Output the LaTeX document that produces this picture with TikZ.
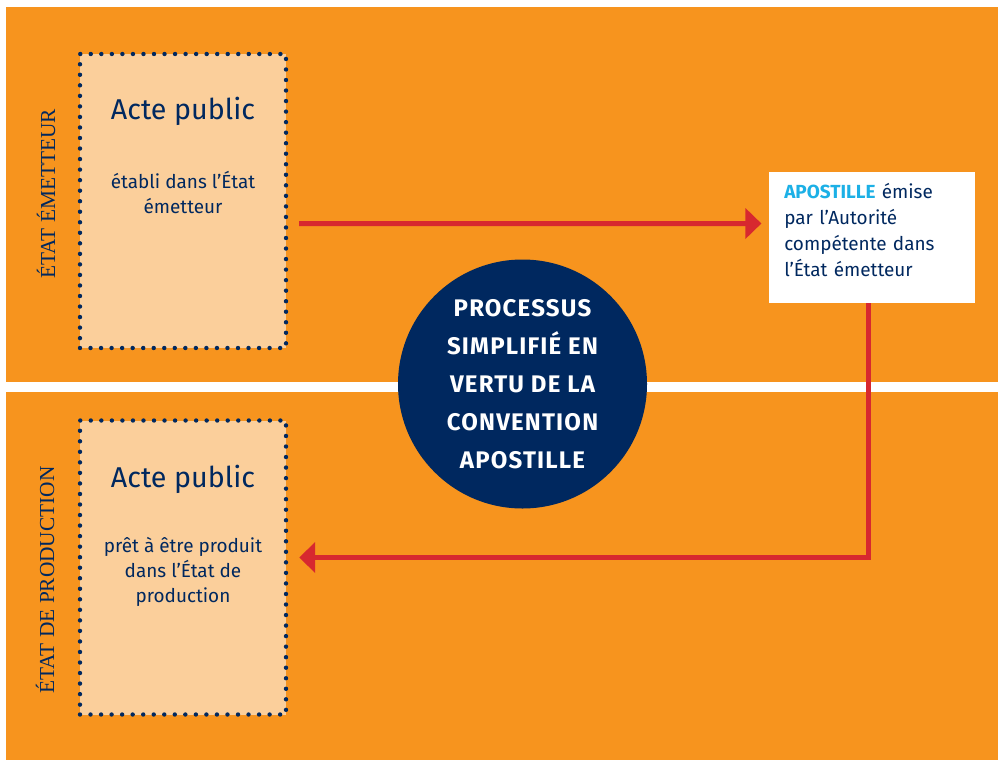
\documentclass[tikz,border=0pt]{standalone}
\usepackage{fontspec}
\setmainfont{Fira Sans}
\newfontfamily\statefont{Liberation Serif}
\usetikzlibrary{arrows.meta}
\definecolor{bandorange}{HTML}{F7941E}
\definecolor{actepeach}{HTML}{FBCF9B}
\definecolor{navy}{HTML}{00285F}
\definecolor{flowred}{HTML}{D7282F}
\definecolor{apocyan}{HTML}{1CB0E6}
\tikzstyle{band} = [fill=bandorange]
\tikzstyle{acte} = [fill=actepeach, draw=navy, line width=3.3pt, line cap=round, dash pattern=on 0pt off 7.9pt, minimum width=154.5pt, minimum height=220.5pt]
\tikzstyle{actetitle} = [text=navy, font=\fontsize{21.5}{25}\selectfont]
\tikzstyle{actetext} = [text=navy, align=center, font=\fontsize{14.2}{18.75}\selectfont]
\tikzstyle{apobox} = [fill=white, minimum width=154.5pt, minimum height=98.25pt]
\tikzstyle{apotext} = [text=navy, align=left, text width=140pt, inner sep=0pt, font=\fontsize{14.2}{19.5}\selectfont]
\tikzstyle{hub} = [circle, fill=navy, minimum size=186.75pt, inner sep=0pt, text=white, align=center, font=\bfseries\fontsize{18}{28.5}\selectfont\addfontfeature{LetterSpace=5}]
\tikzstyle{statelabel} = [rotate=90, text=navy, font=\statefont\fontsize{16}{18}\selectfont]
\tikzstyle{flow} = [draw=flowred, line width=3.75pt, -{Triangle[length=12pt,width=22.5pt]}]

\begin{document}
\begin{tikzpicture}[x=0.75pt,y=-0.75pt]
	  \useasboundingbox (0,0) rectangle (998,760);
	  \fill [band] (6,7) rectangle (998,382);
	  \fill [band] (6,392) rectangle (998,760);

	  \node (emitlabel) at (46,194) [statelabel] {ÉTAT ÉMETTEUR};
	  \node (prodlabel) at (45,580) [statelabel] {ÉTAT DE PRODUCTION};

	  \node (emit) at (183,201) [acte] {};
	  \node (emittitle) at (183,111) [actetitle] {Acte public};
	  \node (emittext) at (183,192) [actetext] {établi dans l’État\\émetteur};

	  \node (prod) at (183,567.5) [acte] {};
	  \node (prodtitle) at (183,479) [actetitle] {Acte public};
	  \node (prodtext) at (183,572) [actetext] {prêt à être produit\\dans l’État de\\production};

	  \node (apo) at (872,237.5) [apobox] {};
	  \node (apotext) at (784,183) [apotext, anchor=north west] {\textcolor{apocyan}{\bfseries APOSTILLE} émise\\par l’Autorité\\compétente dans\\l’État émetteur};

	  \node (hub) at (522.5,384) [hub] {PROCESSUS\\SIMPLIFIÉ EN\\VERTU DE LA\\CONVENTION\\APOSTILLE};

	  \draw [flow] ([xshift=8.25pt,yshift=-16.9pt]emit.east) -- ([xshift=-5.5pt,yshift=10.5pt]apo.west);
	  \draw [flow] ([xshift=-2.6pt]apo.south) |- ([xshift=8.25pt,yshift=7.5pt]prod.east);
	\end{tikzpicture}
\end{document}
